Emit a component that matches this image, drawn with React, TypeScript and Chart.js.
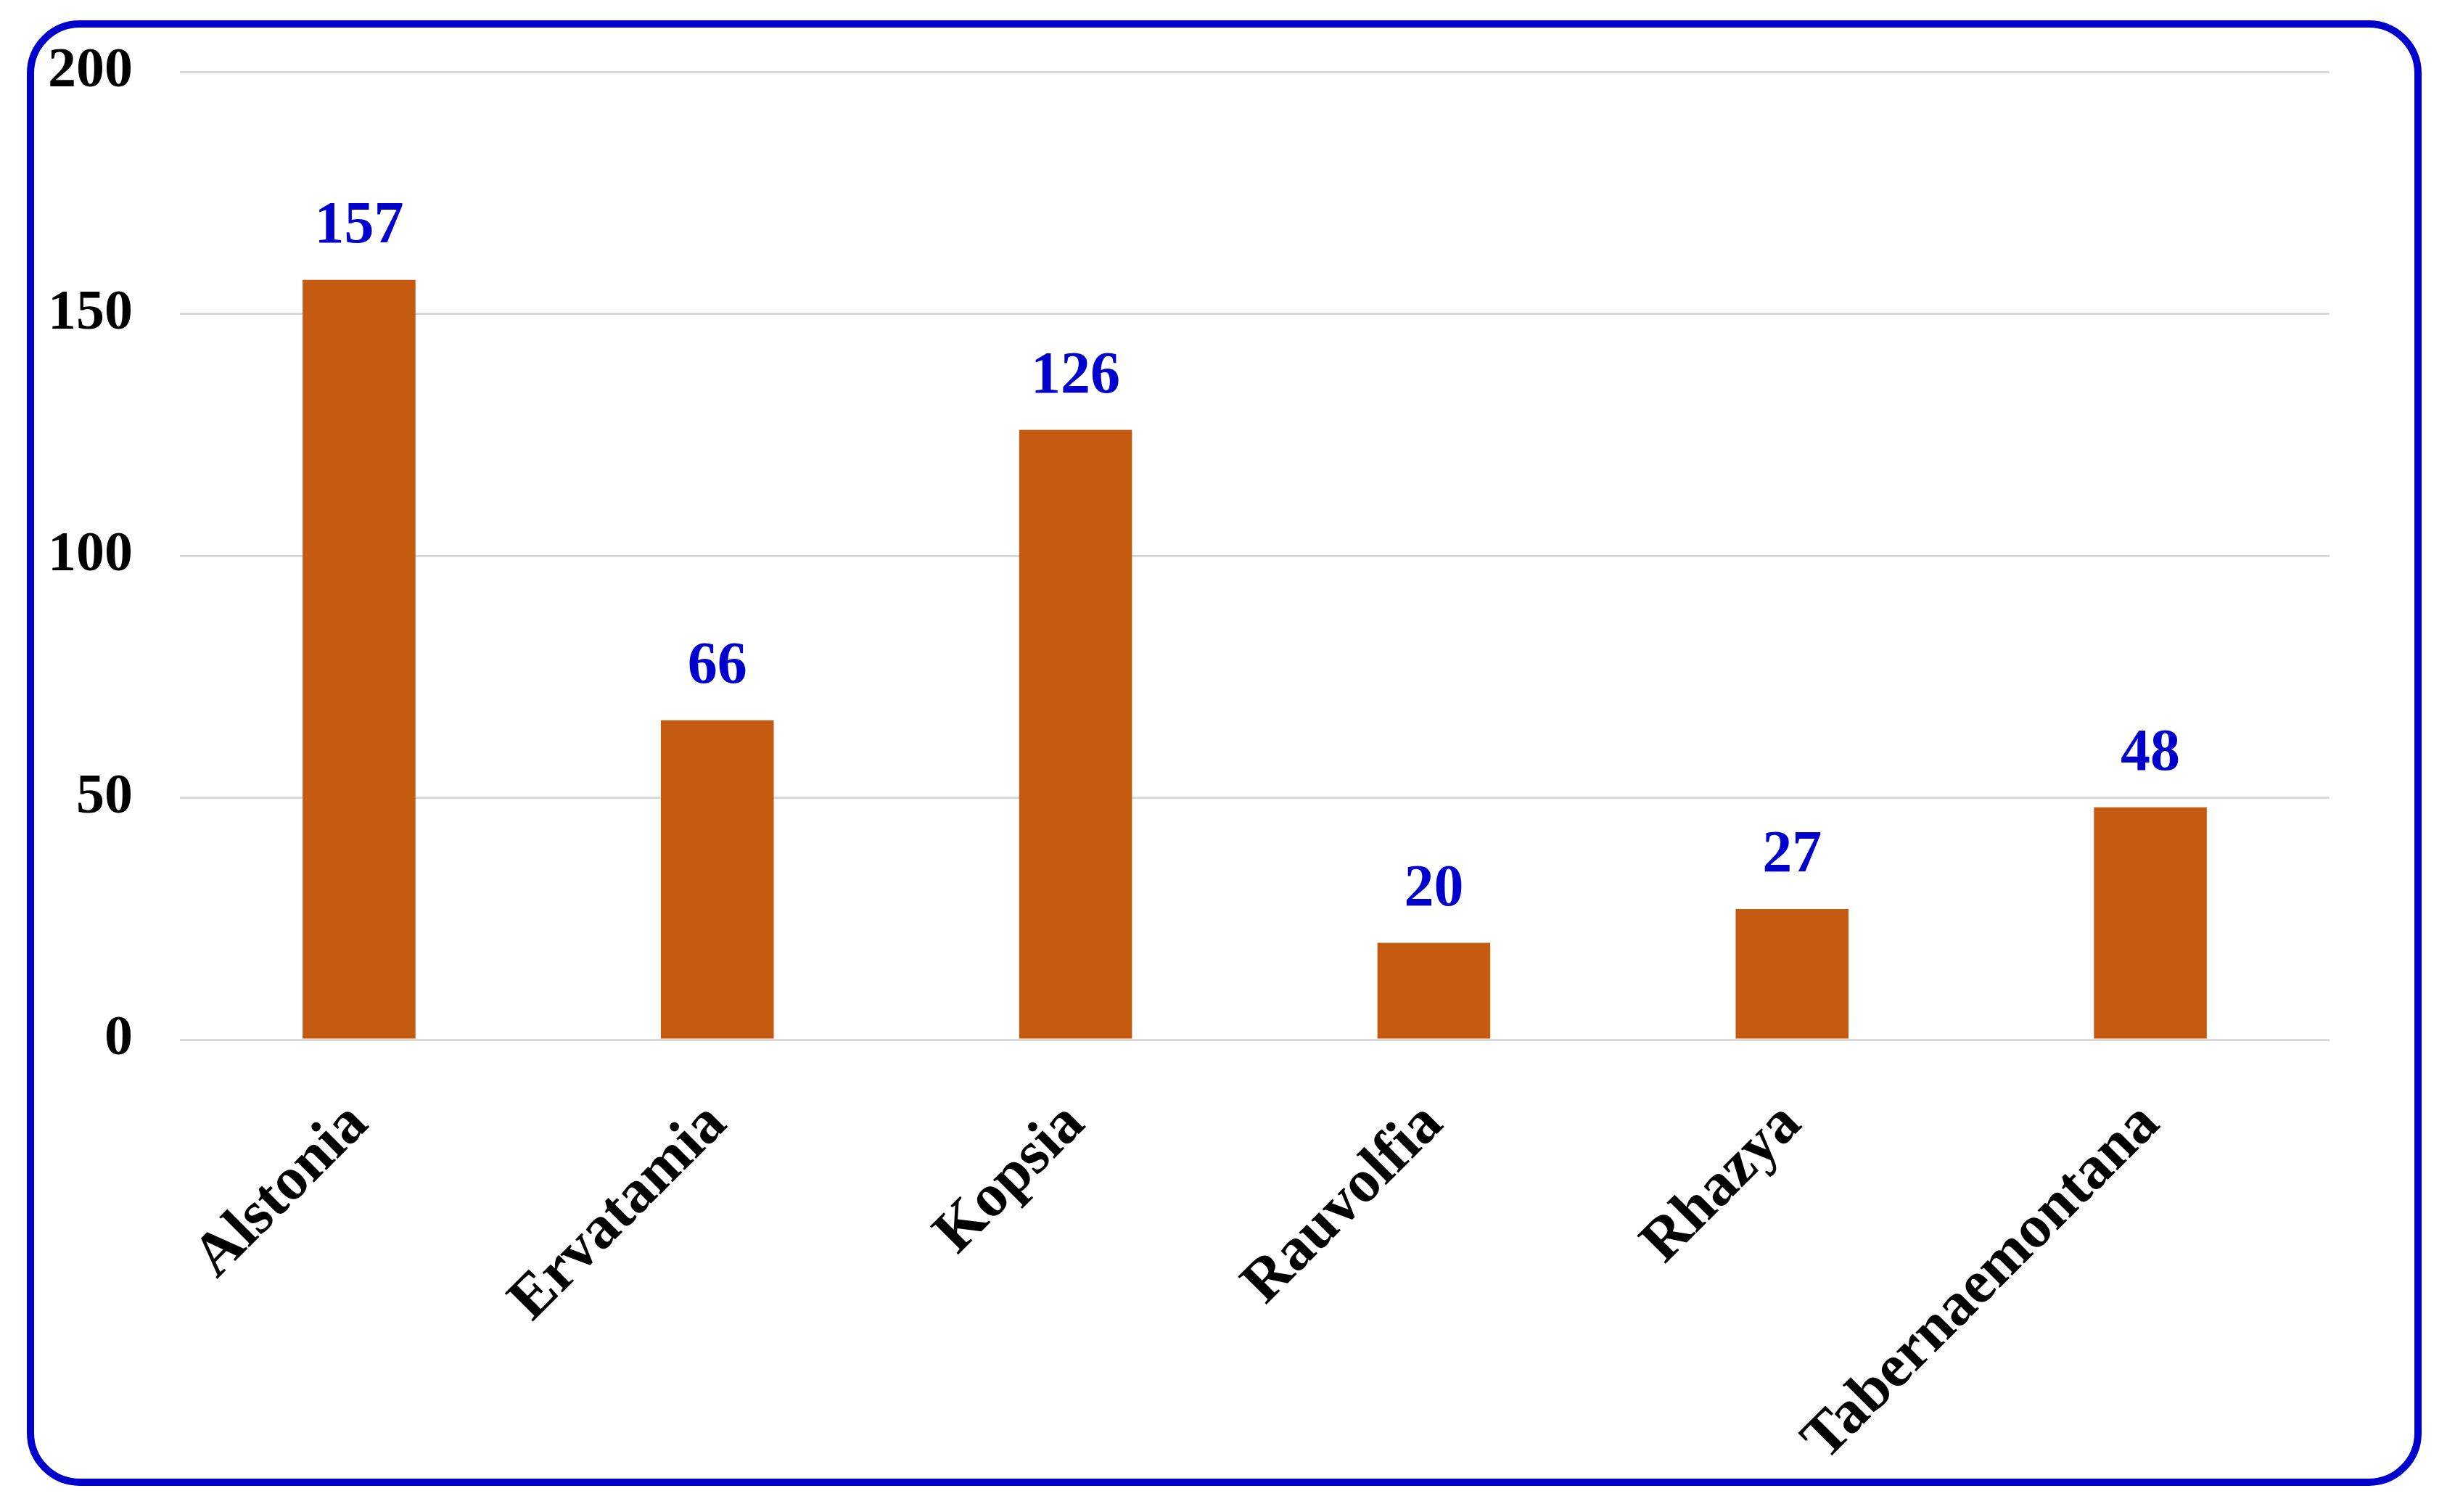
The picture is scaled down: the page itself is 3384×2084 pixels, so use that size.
import { useEffect, useRef } from "react";
import { Chart, registerables } from "chart.js";

Chart.register(...registerables);

const categories = ["Alstonia", "Ervatamia", "Kopsia", "Rauvolfia", "Rhazya", "Tabernaemontana"];
const counts = [157, 66, 126, 20, 27, 48];
const yMin = 0;
const yMax = 200;
const yStep = 50;

const W = 3384;
const H = 2084;
const FONT = "'Liberation Serif', 'Times New Roman', serif";

export default function App() {
  const ref = useRef<HTMLCanvasElement>(null);

  useEffect(() => {
    if (!ref.current) return;

    const framePlugin = {
      id: "frame",
      beforeDraw(chart: any) {
        const ctx = chart.ctx;
        ctx.save();
        ctx.fillStyle = "#ffffff";
        ctx.fillRect(0, 0, chart.width, chart.height);
        ctx.strokeStyle = "#0000CC";
        ctx.lineWidth = 10;
        const x = 42, y = 33, w = 3333 - 42, h = 2043 - 33, r = 68;
        ctx.beginPath();
        ctx.moveTo(x + r, y);
        ctx.lineTo(x + w - r, y);
        ctx.arcTo(x + w, y, x + w, y + r, r);
        ctx.lineTo(x + w, y + h - r);
        ctx.arcTo(x + w, y + h, x + w - r, y + h, r);
        ctx.lineTo(x + r, y + h);
        ctx.arcTo(x, y + h, x, y + h - r, r);
        ctx.lineTo(x, y + r);
        ctx.arcTo(x, y, x + r, y, r);
        ctx.closePath();
        ctx.stroke();
        ctx.restore();
      },
    };

    const valuePlugin = {
      id: "values",
      afterDatasetsDraw(chart: any) {
        const ctx = chart.ctx;
        const meta = chart.getDatasetMeta(0);
        const data = chart.data.datasets[0].data as number[];
        ctx.save();
        ctx.fillStyle = "#0000CC";
        ctx.font = `bold 82px ${FONT}`;
        ctx.textAlign = "center";
        ctx.textBaseline = "alphabetic";
        meta.data.forEach((bar: any, i: number) => {
          ctx.fillText(String(data[i]), bar.x, bar.y - 52);
        });
        ctx.restore();
      },
    };

    const chart = new Chart(ref.current, {
      type: "bar",
      data: {
        labels: categories,
        datasets: [
          {
            data: counts,
            backgroundColor: "#C55A11",
            borderWidth: 0,
            categoryPercentage: 1,
            barPercentage: 0.315,
          },
        ],
      },
      options: {
        responsive: false,
        animation: false,
        devicePixelRatio: 1,
        layout: { padding: { top: 99, right: 173, left: 0, bottom: 0 } },
        plugins: {
          legend: { display: false },
          tooltip: { enabled: false },
        },
        scales: {
          x: {
            grid: { display: false },
            border: { display: false },
            ticks: {
              autoSkip: false,
              minRotation: 45,
              maxRotation: 45,
              padding: 60,
              color: "#000000",
              font: { family: FONT, size: 84, weight: "bold" },
            },
            afterFit(scale: any) {
              scale.height = 651;
              scale.paddingLeft = 0;
              scale.paddingRight = 0;
            },
          },
          y: {
            min: yMin,
            max: yMax,
            grid: { color: "#D9D9D9", lineWidth: 3, drawTicks: false },
            border: { display: false },
            ticks: {
              stepSize: yStep,
              padding: 65,
              color: "#000000",
              font: { family: FONT, size: 78, weight: "bold" },
            },
            afterFit(scale: any) {
              scale.width = 248;
              scale.paddingTop = 0;
              scale.paddingBottom = 0;
            },
          },
        },
      },
      plugins: [framePlugin, valuePlugin],
    });

    return () => chart.destroy();
  }, []);

  return (
    <div style={{ position: "absolute", left: 0, top: 0, width: W, height: H, background: "#fff" }}>
      <canvas ref={ref} width={W} height={H} style={{ width: W, height: H, display: "block" }} />
    </div>
  );
}
